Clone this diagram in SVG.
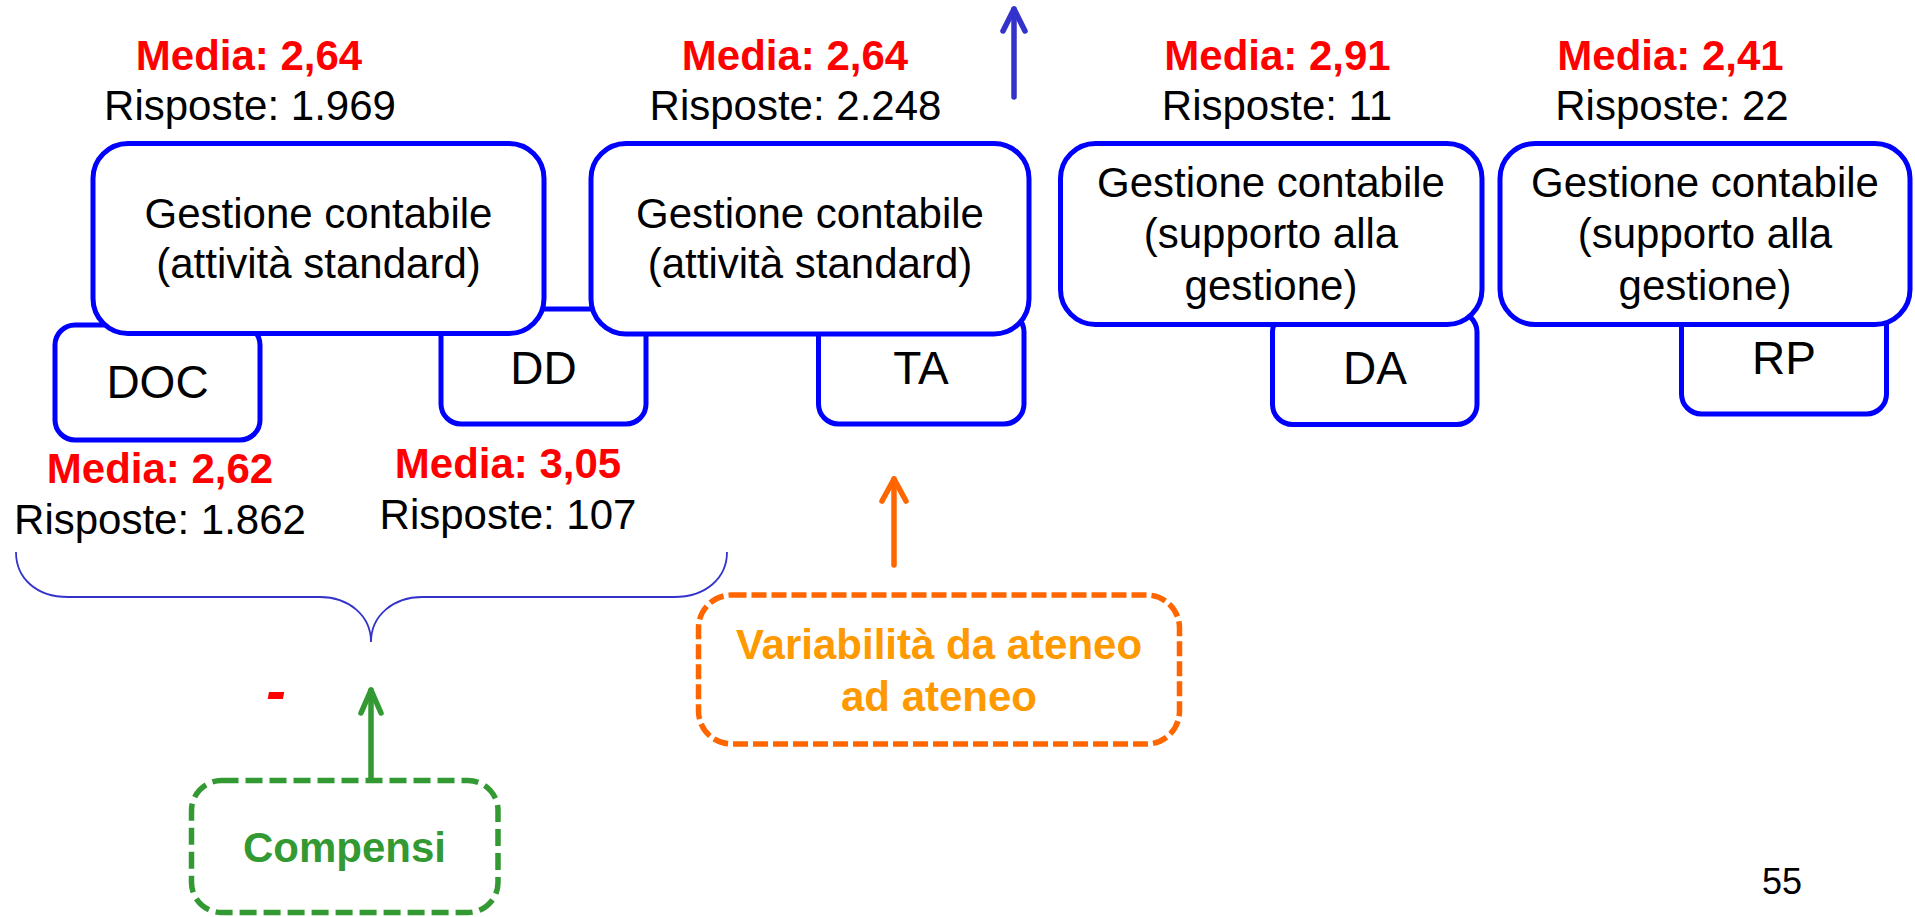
<svg xmlns="http://www.w3.org/2000/svg" width="1915" height="917" viewBox="0 0 1915 917">
<style>
text{font-family:"Liberation Sans",Arial,sans-serif;text-anchor:middle}
.m{fill:#FF0000;font-weight:bold;font-size:42px}
.r{fill:#000;font-size:42px}
.b{fill:#000;font-size:42px}
.s{fill:#000;font-size:46px}
.box{fill:#fff;stroke:#0000FF;stroke-width:5}
.arr{fill:none;stroke-width:5.5;stroke-linecap:round;stroke-linejoin:round}
</style>
<rect width="1915" height="917" fill="#fff"/>
<g id="small-boxes">
<g id="doc"><rect class="box" x="55" y="325" width="205" height="115" rx="20"/><text class="s" x="157.5" y="398">DOC</text></g>
<g id="dd"><rect class="box" x="441" y="309" width="205" height="115" rx="20"/><text class="s" x="543.5" y="384">DD</text></g>
<g id="ta"><rect class="box" x="818.5" y="312" width="205.5" height="112" rx="20"/><text class="s" x="921" y="384">TA</text></g>
<g id="da"><rect class="box" x="1272.5" y="312" width="204.5" height="112.5" rx="20"/><text class="s" x="1375" y="384">DA</text></g>
<g id="rp"><rect class="box" x="1681.5" y="300" width="205" height="114" rx="20"/><text class="s" x="1784" y="374">RP</text></g>
</g>
<g id="gc1"><rect class="box" x="93" y="143.5" width="451" height="190" rx="35"/>
<text class="b" x="318.5" y="228">Gestione contabile</text><text class="b" x="318.5" y="278">(attività standard)</text></g>
<g id="gc2"><rect class="box" x="591" y="143.5" width="438" height="190.5" rx="35"/>
<text class="b" x="810" y="228">Gestione contabile</text><text class="b" x="810" y="278">(attività standard)</text></g>
<g id="gc3"><rect class="box" x="1060.5" y="143.5" width="421.5" height="181" rx="35"/>
<text class="b" x="1271" y="197">Gestione contabile</text><text class="b" x="1271" y="248">(supporto alla</text><text class="b" x="1271" y="300">gestione)</text></g>
<g id="gc4"><rect class="box" x="1500" y="143.5" width="410" height="181" rx="35"/>
<text class="b" x="1705" y="197">Gestione contabile</text><text class="b" x="1705" y="248">(supporto alla</text><text class="b" x="1705" y="300">gestione)</text></g>
<g id="labels">
<text class="m" x="249" y="70">Media: 2,64</text><text class="r" x="250" y="120">Risposte: 1.969</text>
<text class="m" x="795" y="70">Media: 2,64</text><text class="r" x="795.5" y="120">Risposte: 2.248</text>
<text class="m" x="1277.5" y="70">Media: 2,91</text><text class="r" x="1277" y="120">Risposte: 11</text>
<text class="m" x="1670.5" y="70">Media: 2,41</text><text class="r" x="1672" y="120">Risposte: 22</text>
<text class="m" x="160" y="483">Media: 2,62</text><text class="r" x="160" y="534">Risposte: 1.862</text>
<text class="m" x="508" y="478">Media: 3,05</text><text class="r" x="508" y="529">Risposte: 107</text>
<text x="276" y="711" style="fill:#FF0000;font-weight:bold;font-style:italic;font-size:60px">-</text>
<text x="1782" y="894" style="fill:#000;font-size:36px">55</text>
</g>
<g id="connectors">
<path d="M16,552 C16,578 36,597 68,597 L320,597 C348,597 371,615 371,642 C371,615 394,597 422,597 L674,597 C706,597 727,578 727,552" fill="none" stroke="#3333CC" stroke-width="1.8"/>
<g class="arr" stroke="#3333CC"><path d="M1014,97 L1014,9"/><path d="M1003,31 L1014,9 L1025,31"/></g>
<g class="arr" stroke="#FF6600"><path d="M894,565 L894,479"/><path d="M882,501 L894,479 L906,501"/></g>
<g class="arr" stroke="#339933"><path d="M371,778 L371,690"/><path d="M361,713 L371,690 L381,713"/></g>
</g>
<g id="compensi"><rect x="191.5" y="780.5" width="306.5" height="132" rx="30" fill="none" stroke="#339933" stroke-width="5.5" stroke-dasharray="17 7"/>
<text x="344.5" y="862" style="fill:#339933;font-weight:bold;font-size:42px">Compensi</text></g>
<g id="variabilita"><rect x="698.5" y="595" width="481" height="149" rx="33" fill="none" stroke="#FF6600" stroke-width="5.5" stroke-dasharray="15 5"/>
<text x="939" y="659" style="fill:#FF9900;font-weight:bold;font-size:42px">Variabilità da ateneo</text>
<text x="939" y="711" style="fill:#FF9900;font-weight:bold;font-size:42px">ad ateneo</text></g>
</svg>
